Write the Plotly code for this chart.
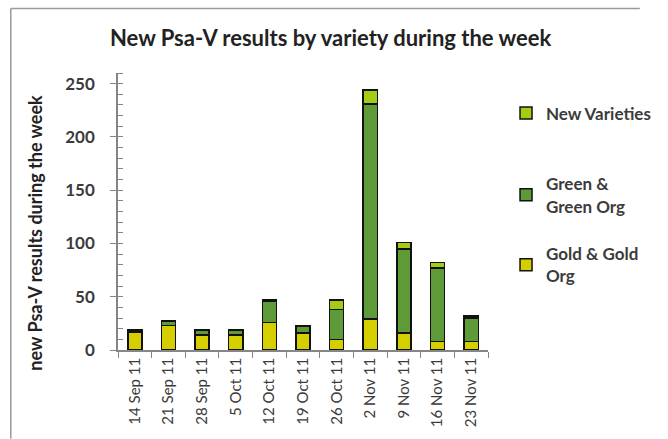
import plotly.graph_objects as go

weeks = ["14 Sep 11", "21 Sep 11", "28 Sep 11", "5 Oct 11", "12 Oct 11", "19 Oct 11",
         "26 Oct 11", "2 Nov 11", "9 Nov 11", "16 Nov 11", "23 Nov 11"]
gold = [17, 23, 14, 14, 26, 16, 10, 29, 16, 8, 8]
green = [2, 4, 5, 5, 20, 6, 28, 202, 79, 69, 22]
new_var = [0, 0, 0, 0, 1, 1, 9, 13, 6, 5, 2]

series_names = ["Gold & Gold<br>Org", "Green &<br>Green Org", "New Varieties"]
series_colors = ["#d5cf00", "#5f9a38", "#a4cc14"]

W, H = 668, 439
L, R, T, B = 118, 508, 72.6, 350
pw, ph = R - L, B - T

def px2x(px):
    return (px - L) / pw

def py2y(py):
    return (B - py) / ph

FONT = "Lato"
TXT = "#3b3b3b"

fig = go.Figure()
legend_ids = ["legend3", "legend2", "legend"]
for vals, name, col, lg in zip([gold, green, new_var], series_names, series_colors, legend_ids):
    fig.add_trace(go.Bar(
        x=weeks, y=vals, name=name, legend=lg, showlegend=True,
        marker=dict(color=col, line=dict(color="#111111", width=1.5)),
    ))

legend_common = dict(
    xanchor="left", yanchor="top", bgcolor="rgba(0,0,0,0)",
    font=dict(family=FONT, size=17, color=TXT, weight="bold"),
    itemwidth=30,
)

fig.update_layout(
    width=W, height=H, showlegend=True,
    margin=dict(l=L, r=W - R, t=T, b=H - B, pad=0),
    paper_bgcolor="white", plot_bgcolor="white",
    barmode="stack", bargap=0.58,
    font=dict(family=FONT, color=TXT),
    legend=dict(x=px2x(527), y=py2y(95), **legend_common),
    legend2=dict(x=px2x(527), y=py2y(166), **legend_common),
    legend3=dict(x=px2x(527), y=py2y(236), **legend_common),
    xaxis=dict(
        type="category", showline=True, linecolor="#868686", linewidth=1.5,
        ticks="outside", tickson="boundaries", ticklen=6, tickcolor="#868686",
        tickangle=-90, tickfont=dict(family=FONT, size=15, color=TXT),
        showgrid=False, zeroline=False,
    ),
    yaxis=dict(
        range=[0, 260], tickvals=[0, 50, 100, 150, 200, 250],
        showline=True, linecolor="#868686", linewidth=1.5,
        ticks="outside", ticklen=6, tickcolor="#868686",
        minor=dict(dtick=10, ticks="inside", ticklen=5, tickcolor="#868686", showgrid=False),
        tickfont=dict(family=FONT, size=17, color=TXT, weight="bold"),
        ticklabelstandoff=12,
        showgrid=False, zeroline=False,
    ),
    annotations=[
        dict(text="New Psa-V results by variety during the week", xref="paper", yref="paper",
             x=px2x(342.5), y=py2y(37), xanchor="center", yanchor="middle", showarrow=False,
             font=dict(family=FONT, size=22, color="#222222", weight="bold")),
        dict(text="new Psa-V results during the week", xref="paper", yref="paper",
             x=px2x(31), y=py2y(232), xanchor="center", yanchor="middle", showarrow=False,
             textangle=-90, font=dict(family=FONT, size=18, color="#222222", weight="bold")),
    ],
    shapes=[
        dict(type="line", xref="paper", yref="paper", x0=px2x(5), x1=px2x(668),
             y0=py2y(8), y1=py2y(8), line=dict(color="#9a9a9a", width=1.5)),
        dict(type="line", xref="paper", yref="paper", x0=px2x(5), x1=px2x(5),
             y0=py2y(8), y1=py2y(439), line=dict(color="#9a9a9a", width=1.5)),
    ],
)

fig.write_html("out.html", config={"displayModeBar": False},
               post_script="document.body.style.margin='0';")
